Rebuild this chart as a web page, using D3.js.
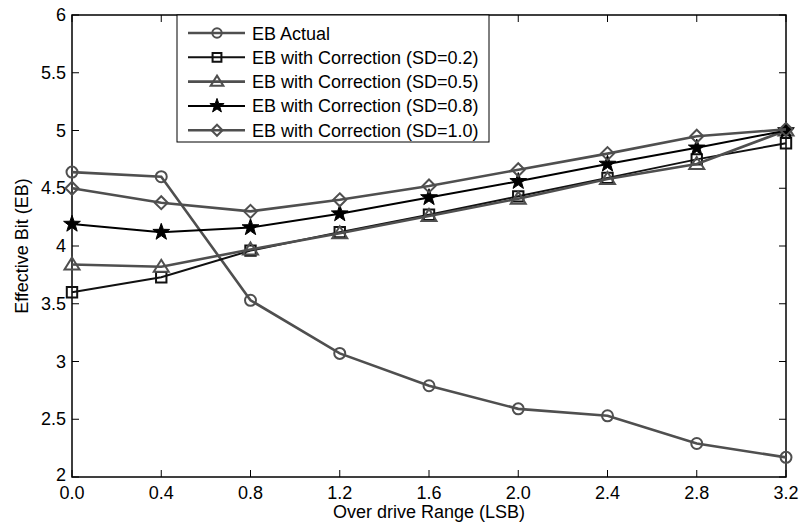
<!DOCTYPE html>
<html>
<head>
<meta charset="utf-8">
<script src="https://cdn.jsdelivr.net/npm/d3@7"></script>
<style>
  body { margin: 0; background: #fff; }
  svg { display: block; font-family: "Liberation Sans", Arial, sans-serif; }
</style>
</head>
<body>
<svg id="chart" width="801" height="526"></svg>
<script>
// data
var overdrive = [0.0, 0.4, 0.8, 1.2, 1.6, 2.0, 2.4, 2.8, 3.2];
var ebActual = [4.64, 4.60, 3.53, 3.07, 2.79, 2.59, 2.53, 2.29, 2.17];
var ebSd02 = [3.60, 3.73, 3.96, 4.12, 4.27, 4.43, 4.59, 4.75, 4.89];
var ebSd05 = [3.84, 3.82, 3.97, 4.11, 4.26, 4.41, 4.58, 4.71, 5.00];
var ebSd08 = [4.19, 4.12, 4.16, 4.28, 4.42, 4.56, 4.71, 4.85, 5.00];
var ebSd10 = [4.50, 4.375, 4.30, 4.40, 4.52, 4.66, 4.80, 4.95, 5.01];
var seriesNames = ["EB Actual", "EB with Correction (SD=0.2)", "EB with Correction (SD=0.5)",
                   "EB with Correction (SD=0.8)", "EB with Correction (SD=1.0)"];
var xTicks = [0.0, 0.4, 0.8, 1.2, 1.6, 2.0, 2.4, 2.8, 3.2];
var yTicks = [2, 2.5, 3, 3.5, 4, 4.5, 5, 5.5, 6];

var gray = "#4f4f4f";
var series = [
  { name: seriesNames[0], values: ebActual, color: gray, marker: "circle" },
  { name: seriesNames[1], values: ebSd02, color: "#111", marker: "square" },
  { name: seriesNames[2], values: ebSd05, color: gray, marker: "triangle" },
  { name: seriesNames[3], values: ebSd08, color: "#000", marker: "star" },
  { name: seriesNames[4], values: ebSd10, color: gray, marker: "diamond" }
];

var [pLeft, pRight, pTop, pBottom] = [72, 786, 15, 477];
var fontSize = 18;

var x = d3.scaleLinear().domain([0, 3.2]).range([pLeft, pRight]);
var y = d3.scaleLinear().domain([2, 6]).range([pBottom, pTop]);

var svg = d3.select("#chart");

/** marker shapes, matlab style */
function markerPath(kind, s) {
  var p = d3.path();
  if (kind === "circle") {
    p.arc(0, 0, 5.5 * s, 0, 2 * Math.PI);
  } else if (kind === "square") {
    var h = 5.2 * s;
    p.rect(-h, -h, 2 * h, 2 * h);
  } else if (kind === "triangle") {
    var w = 7.5 * s, t = 7 * s, b = 5 * s;
    p.moveTo(0, -t); p.lineTo(w, b); p.lineTo(-w, b); p.closePath();
  } else if (kind === "diamond") {
    var d = 6.5 * s;
    p.moveTo(0, -d); p.lineTo(d, 0); p.lineTo(0, d); p.lineTo(-d, 0); p.closePath();
  } else if (kind === "star") {
    var ro = 8.8 * s, ri = 3.5 * s;
    for (var i = 0; i < 10; i++) {
      var r = i % 2 ? ri : ro;
      var a = -Math.PI / 2 + i * Math.PI / 5;
      if (i === 0) p.moveTo(r * Math.cos(a), r * Math.sin(a));
      else p.lineTo(r * Math.cos(a), r * Math.sin(a));
    }
    p.closePath();
  }
  return p.toString();
}

function drawMarker(g, kind, color, s) {
  g.append("path")
    .attr("d", markerPath(kind, s))
    .attr("fill", kind === "star" ? color : "none")
    .attr("stroke", color)
    .attr("stroke-width", kind === "star" ? 1 : 2)
    .attr("stroke-linejoin", "miter");
}

/** Axes box and ticks */
var frame = svg.append("g");
frame.append("rect")
  .attr("x", pLeft).attr("y", pTop)
  .attr("width", pRight - pLeft).attr("height", pBottom - pTop)
  .attr("fill", "none").attr("stroke", "#000").attr("stroke-width", 1.5);

var tickLen = 7;
xTicks.forEach(function (t) {
  frame.append("line").attr("x1", x(t)).attr("x2", x(t))
    .attr("y1", pBottom).attr("y2", pBottom - tickLen).attr("stroke", "#000");
  frame.append("line").attr("x1", x(t)).attr("x2", x(t))
    .attr("y1", pTop).attr("y2", pTop + tickLen).attr("stroke", "#000");
  frame.append("text").attr("x", x(t)).attr("y", pBottom + 22)
    .attr("text-anchor", "middle").attr("font-size", fontSize)
    .text(d3.format(".1f")(t));
});
yTicks.forEach(function (t) {
  frame.append("line").attr("x1", pLeft).attr("x2", pLeft + tickLen)
    .attr("y1", y(t)).attr("y2", y(t)).attr("stroke", "#000");
  frame.append("line").attr("x1", pRight).attr("x2", pRight - tickLen)
    .attr("y1", y(t)).attr("y2", y(t)).attr("stroke", "#000");
  frame.append("text").attr("x", pLeft - 6).attr("y", y(t) + (t === 2 ? 4 : 6))
    .attr("text-anchor", "end").attr("font-size", fontSize)
    .text(t);
});

svg.append("text")
  .attr("x", (pLeft + pRight) / 2).attr("y", 518)
  .attr("text-anchor", "middle").attr("font-size", fontSize)
  .text("Over drive Range (LSB)");
svg.append("text")
  .attr("transform", "translate(28," + ((pTop + pBottom) / 2) + ") rotate(-90)")
  .attr("text-anchor", "middle").attr("font-size", fontSize)
  .text("Effective Bit (EB)");

/** Lines and markers */
var line = d3.line().x(function (d, i) { return x(overdrive[i]); }).y(function (d) { return y(d); });
series.forEach(function (s) {
  svg.append("path")
    .datum(s.values)
    .attr("d", line)
    .attr("fill", "none")
    .attr("stroke", s.color)
    .attr("stroke-width", s.color === gray ? 2.6 : 2);
  s.values.forEach(function (v, i) {
    var g = svg.append("g").attr("transform", "translate(" + x(overdrive[i]) + "," + y(v) + ")");
    drawMarker(g, s.marker, s.color, 1);
  });
});

/** Legend */
var lg = svg.append("g");
lg.append("rect")
  .attr("x", 177).attr("y", 15).attr("width", 312).attr("height", 127)
  .attr("fill", "#fff").attr("stroke", "#000").attr("stroke-width", 1);
series.forEach(function (s, i) {
  var ry = 33 + i * 24.3;
  lg.append("line").attr("x1", 188).attr("x2", 245).attr("y1", ry).attr("y2", ry)
    .attr("stroke", s.color).attr("stroke-width", s.color === gray ? 2.6 : 2);
  var g = lg.append("g").attr("transform", "translate(217," + ry + ")");
  drawMarker(g, s.marker, s.color, 0.85);
  lg.append("text").attr("x", 252).attr("y", ry + 6.5)
    .attr("font-size", fontSize).text(s.name);
});
</script>
</body>
</html>
